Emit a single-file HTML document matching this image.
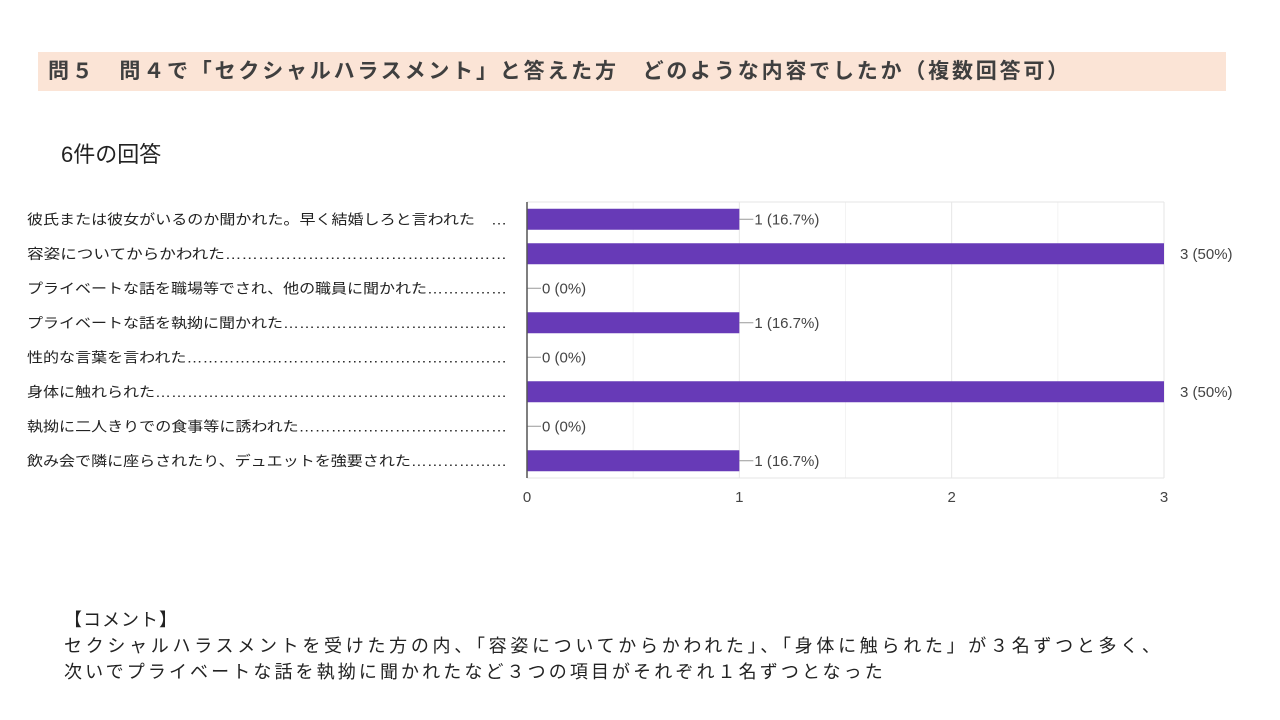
<!DOCTYPE html>
<html><head><meta charset="utf-8"><style>
body{margin:0;width:1280px;height:720px;background:#fff;position:relative;overflow:hidden;font-family:"Liberation Sans","Noto Sans CJK JP",sans-serif;}
.t{position:absolute;white-space:nowrap;}
</style></head><body>
<div style="position:absolute;left:38px;top:52px;width:1188px;height:39px;background:#fbe4d6;"></div>
<div class="t" style="left:48px;top:58px;font-size:21px;font-weight:bold;color:#3f3f3f;line-height:28px;letter-spacing:2.8px;">問５　問４で「セクシャルハラスメント」と答えた方　どのような内容でしたか（複数回答可）</div>
<div class="t" style="left:61px;top:141px;font-size:22px;color:#222;line-height:28px;">6件の回答</div>
<svg id="chart" width="1280" height="520" style="position:absolute;left:0;top:180px;"></svg>
<div class="t" style="left:64px;top:607px;font-size:18px;color:#222;line-height:26px;letter-spacing:1px;">【コメント】</div>
<div class="t" style="left:64px;top:633px;font-size:18px;color:#222;line-height:26px;letter-spacing:3.7px;">セクシャルハラスメントを受けた方の内、「容姿についてからかわれた」、「身体に触られた」が３名ずつと多く、</div>
<div class="t" style="left:64px;top:659px;font-size:18px;color:#222;line-height:26px;letter-spacing:3.1px;">次いでプライベートな話を執拗に聞かれたなど３つの項目がそれぞれ１名ずつとなった</div>
<script>
const categories=["彼氏または彼女がいるのか聞かれた。早く結婚しろと言われた　…","容姿についてからかわれた……………………………………………","プライベートな話を職場等でされ、他の職員に聞かれた……………","プライベートな話を執拗に聞かれた……………………………………","性的な言葉を言われた……………………………………………………","身体に触れられた…………………………………………………………","執拗に二人きりでの食事等に誘われた…………………………………","飲み会で隣に座らされたり、デュエットを強要された………………"];
const values=[1,3,0,1,0,3,0,1];
const pctLabels=["16.7%","50%","0%","16.7%","0%","50%","0%","16.7%"];
const ticks=[0,1,2,3];
const svg=document.getElementById('chart');const NS='http://www.w3.org/2000/svg';
const oy=180,X0=527,X1=1164,top0=202-oy,bot=478-oy,xmax=3;
const x=v=>X0+(X1-X0)*v/xmax;
const step=(bot-top0)/categories.length;
const yc=i=>top0+step*(i+0.5);
function mk(t,a,p){const e=document.createElementNS(NS,t);for(const k in a)e.setAttribute(k,a[k]);(p||svg).appendChild(e);return e;}
for(let v=0;v<=xmax;v+=0.5){const g=mk('line',{x1:x(v),x2:x(v),y1:top0,y2:bot,stroke:v%1?'#f3f3f3':'#e6e6e6'});

}
const fr=mk('line',{x1:X0,x2:X1,y1:top0,y2:top0,stroke:'#e6e6e6'});


const fb=mk('line',{x1:X0,x2:X1,y1:bot,y2:bot,stroke:'#e6e6e6'});


ticks.forEach(t=>{const e=mk('text',{x:x(t),y:bot+24,'text-anchor':'middle','font-size':15,fill:'#444'});e.textContent=t;

});
categories.forEach((c,i)=>{const y=yc(i),v=values[i];
const l=mk('text',{x:507,y:y+5,'text-anchor':'end','font-size':14,fill:'#222',textLength:480,lengthAdjust:'spacingAndGlyphs'});l.textContent=c;


if(v>0){const b=mk('rect',{x:X0,y:y-10.5,width:x(v)-X0,height:21,fill:'#673ab7'});

}
const lbl=v+' ('+pctLabels[i]+')';
if(v<xmax){const ln=mk('line',{x1:x(v),x2:x(v)+14,y1:y,y2:y,stroke:'#999'});


const tx=mk('text',{x:x(v)+15,y:y+5,'font-size':15,fill:'#444'});tx.textContent=lbl;

}
else{const tx=mk('text',{x:x(v)+16,y:y+5,'font-size':15,fill:'#444'});tx.textContent=lbl;

}
});
const ax=mk('line',{x1:X0,x2:X0,y1:top0,y2:bot,stroke:'#555','stroke-width':1.5});


</script>
</body></html>
